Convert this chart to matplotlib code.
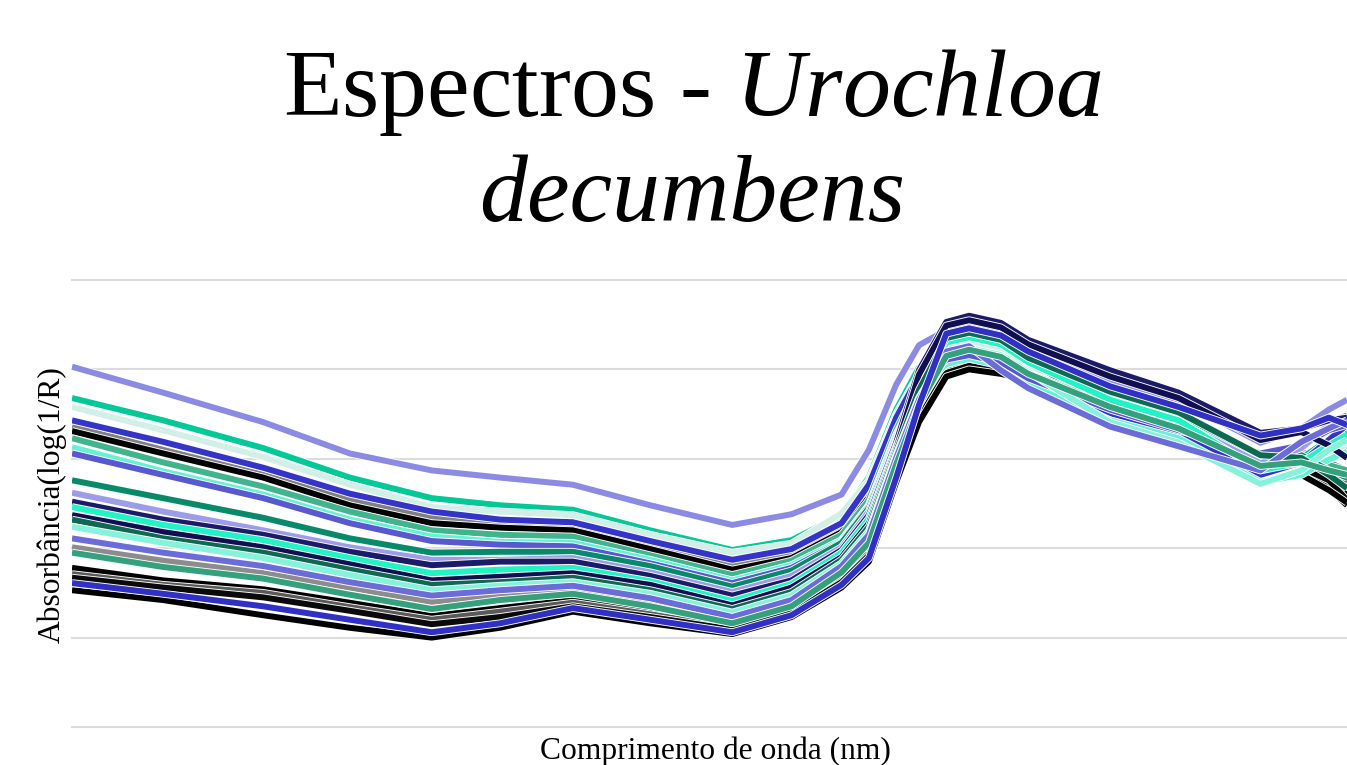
import matplotlib
matplotlib.use("Agg")
import matplotlib.pyplot as plt
import matplotlib.patheffects as pe

plt.rcParams['font.family'] = ['Liberation Serif', 'DejaVu Serif']
plt.rcParams['mathtext.fontset'] = 'custom'
plt.rcParams['mathtext.rm'] = 'Liberation Serif'
plt.rcParams['mathtext.it'] = 'Liberation Serif:italic'

# comprimento de onda (nm)
wl = [1100, 1200, 1310, 1405, 1495, 1570, 1650, 1735, 1825, 1890, 1945, 1975,
      2005, 2030, 2060, 2085, 2120, 2150, 2240, 2315, 2405, 2450, 2480, 2500]

# absorbancia log(1/R) de cada amostra
a01 = [0.403, 0.374, 0.341, 0.306, 0.287, 0.279, 0.271, 0.248, 0.226, 0.238, 0.260, 0.310,
       0.383, 0.427, 0.444, 0.451, 0.443, 0.423, 0.388, 0.366, 0.318, 0.334, 0.355, 0.366]
a02 = [0.368, 0.343, 0.312, 0.279, 0.256, 0.248, 0.243, 0.220, 0.198, 0.209, 0.237, 0.279,
       0.355, 0.402, 0.414, 0.418, 0.410, 0.394, 0.355, 0.334, 0.290, 0.301, 0.321, 0.330]
a03 = [0.358, 0.332, 0.302, 0.271, 0.246, 0.241, 0.237, 0.215, 0.195, 0.205, 0.239, 0.276,
       0.350, 0.395, 0.424, 0.430, 0.422, 0.402, 0.343, 0.321, 0.279, 0.287, 0.304, 0.315]
a04 = [0.343, 0.319, 0.290, 0.261, 0.241, 0.232, 0.229, 0.208, 0.187, 0.199, 0.228, 0.271,
       0.346, 0.393, 0.408, 0.414, 0.406, 0.388, 0.351, 0.329, 0.282, 0.296, 0.321, 0.338]
a05 = [0.336, 0.310, 0.282, 0.254, 0.234, 0.227, 0.224, 0.204, 0.181, 0.195, 0.224, 0.263,
       0.338, 0.388, 0.426, 0.433, 0.425, 0.405, 0.369, 0.346, 0.304, 0.308, 0.296, 0.287]
a06 = [0.331, 0.306, 0.279, 0.248, 0.228, 0.223, 0.220, 0.199, 0.176, 0.189, 0.218, 0.257,
       0.321, 0.371, 0.394, 0.403, 0.397, 0.389, 0.359, 0.336, 0.299, 0.287, 0.267, 0.248]
a07 = [0.323, 0.296, 0.269, 0.241, 0.220, 0.215, 0.213, 0.192, 0.170, 0.186, 0.215, 0.254,
       0.332, 0.383, 0.415, 0.421, 0.413, 0.396, 0.360, 0.338, 0.296, 0.299, 0.293, 0.287]
a08 = [0.313, 0.286, 0.260, 0.232, 0.213, 0.207, 0.206, 0.187, 0.164, 0.181, 0.209, 0.248,
       0.327, 0.377, 0.406, 0.412, 0.404, 0.385, 0.343, 0.323, 0.274, 0.282, 0.299, 0.308]
a09 = [0.306, 0.282, 0.256, 0.228, 0.208, 0.204, 0.202, 0.183, 0.161, 0.178, 0.207, 0.247,
       0.324, 0.379, 0.411, 0.416, 0.408, 0.390, 0.355, 0.332, 0.306, 0.315, 0.332, 0.338]
a10 = [0.276, 0.256, 0.234, 0.211, 0.195, 0.196, 0.196, 0.180, 0.157, 0.175, 0.206, 0.245,
       0.321, 0.383, 0.433, 0.439, 0.431, 0.411, 0.374, 0.351, 0.299, 0.304, 0.287, 0.279]
a11 = [0.262, 0.241, 0.220, 0.201, 0.187, 0.187, 0.189, 0.173, 0.151, 0.169, 0.201, 0.241,
       0.319, 0.388, 0.437, 0.443, 0.435, 0.416, 0.362, 0.341, 0.295, 0.312, 0.338, 0.349]
a12 = [0.252, 0.232, 0.215, 0.196, 0.181, 0.185, 0.185, 0.169, 0.147, 0.164, 0.198, 0.237,
       0.318, 0.399, 0.453, 0.460, 0.452, 0.433, 0.399, 0.374, 0.329, 0.334, 0.343, 0.346]
a13 = [0.246, 0.226, 0.209, 0.189, 0.172, 0.176, 0.178, 0.163, 0.141, 0.160, 0.195, 0.233,
       0.314, 0.375, 0.430, 0.436, 0.428, 0.408, 0.366, 0.343, 0.287, 0.296, 0.315, 0.327]
a14 = [0.237, 0.218, 0.201, 0.182, 0.164, 0.168, 0.172, 0.159, 0.136, 0.156, 0.190, 0.228,
       0.311, 0.394, 0.449, 0.455, 0.447, 0.428, 0.392, 0.368, 0.321, 0.330, 0.315, 0.301]
a15 = [0.232, 0.211, 0.195, 0.176, 0.159, 0.162, 0.167, 0.153, 0.132, 0.151, 0.187, 0.224,
       0.308, 0.377, 0.435, 0.441, 0.433, 0.413, 0.375, 0.352, 0.304, 0.301, 0.282, 0.267]
a16 = [0.224, 0.206, 0.189, 0.170, 0.153, 0.158, 0.162, 0.149, 0.128, 0.147, 0.183, 0.219,
       0.304, 0.368, 0.418, 0.424, 0.416, 0.397, 0.341, 0.318, 0.272, 0.287, 0.310, 0.321]
a17 = [0.211, 0.195, 0.180, 0.162, 0.147, 0.153, 0.158, 0.144, 0.123, 0.142, 0.180, 0.215,
       0.301, 0.366, 0.420, 0.426, 0.399, 0.379, 0.336, 0.314, 0.287, 0.319, 0.334, 0.343]
a18 = [0.201, 0.186, 0.172, 0.156, 0.140, 0.148, 0.153, 0.140, 0.120, 0.139, 0.177, 0.210,
       0.298, 0.361, 0.403, 0.409, 0.403, 0.394, 0.364, 0.340, 0.304, 0.287, 0.279, 0.274]
a19 = [0.195, 0.179, 0.166, 0.148, 0.132, 0.142, 0.149, 0.135, 0.116, 0.135, 0.173, 0.206,
       0.294, 0.360, 0.415, 0.422, 0.414, 0.395, 0.358, 0.334, 0.292, 0.296, 0.287, 0.282]
a20 = [0.178, 0.164, 0.154, 0.139, 0.124, 0.133, 0.142, 0.130, 0.113, 0.132, 0.169, 0.200,
       0.287, 0.349, 0.397, 0.406, 0.399, 0.392, 0.361, 0.338, 0.301, 0.285, 0.271, 0.260]
a21 = [0.171, 0.159, 0.150, 0.134, 0.120, 0.129, 0.139, 0.126, 0.111, 0.130, 0.166, 0.197,
       0.284, 0.352, 0.425, 0.432, 0.424, 0.404, 0.368, 0.343, 0.301, 0.299, 0.285, 0.276]
a22 = [0.167, 0.156, 0.145, 0.130, 0.115, 0.123, 0.135, 0.123, 0.109, 0.128, 0.162, 0.192,
       0.281, 0.346, 0.396, 0.404, 0.398, 0.390, 0.360, 0.337, 0.300, 0.290, 0.276, 0.254]
a23 = [0.161, 0.149, 0.135, 0.120, 0.106, 0.116, 0.133, 0.120, 0.106, 0.125, 0.159, 0.189,
       0.279, 0.360, 0.440, 0.446, 0.438, 0.420, 0.381, 0.358, 0.326, 0.334, 0.346, 0.338]
a24 = [0.153, 0.142, 0.125, 0.111, 0.100, 0.111, 0.129, 0.116, 0.104, 0.123, 0.156, 0.185,
       0.274, 0.341, 0.392, 0.400, 0.395, 0.388, 0.358, 0.334, 0.298, 0.282, 0.265, 0.251]

amostras = [a01, a02, a03, a04, a05, a06, a07, a08, a09, a10, a11, a12,
            a13, a14, a15, a16, a17, a18, a19, a20, a21, a22, a23, a24]
cores = ['#8b8be3', '#00c896', '#d2efe7', '#3434c8', '#808080', '#000000',
         '#40b48c', '#66f0d4', '#5858d0', '#078a6a', '#9c9ce8', '#1b1b68',
         '#22f2c4', '#101050', '#0c6a52', '#86f2dc', '#6c6cd8', '#8c8c8c',
         '#34a07c', '#000000', '#5a5a5a', '#0a0a0a', '#3030c4', '#000000']
# pretos e cinzas ficam por baixo das cores
neutras = {'#808080', '#000000', '#8c8c8c', '#5a5a5a', '#0a0a0a'}

fig = plt.figure(figsize=(13.47, 7.65), dpi=100)
ax = fig.add_axes([72 / 1347, 38 / 765, 1 - 72 / 1347, 447 / 765])

contorno = [pe.Stroke(linewidth=5.6, foreground='white'), pe.Normal()]
for y, c in zip(amostras, cores):
    z = 2 if c in neutras else 3
    ax.plot(wl, y, color=c, lw=4.3, solid_joinstyle='round', zorder=z,
            solid_capstyle='butt', path_effects=contorno)

ax.set_xlim(1100, 2500)
ax.set_ylim(0, 0.5)
ax.set_yticks([0, 0.1, 0.2, 0.3, 0.4, 0.5])
ax.set_xticks([])
ax.tick_params(left=False, labelleft=False)
ax.grid(axis='y', color='#dcdcdc', lw=1.5)
ax.set_axisbelow(True)
for s in ax.spines.values():
    s.set_visible(False)
for gl in ax.get_ygridlines():
    gl.set_clip_on(False)

fig.text(692 / 1347, 1 - 116 / 765, 'Espectros - $\\mathit{Urochloa}$',
         ha='center', va='baseline', fontsize=69)
fig.text(692 / 1347, 1 - 221 / 765, 'decumbens', ha='center', va='baseline',
         fontsize=69, style='italic')
fig.text(52 / 1347, 1 - 505 / 765, 'Absorbância(log(1/R)', rotation=90,
         ha='center', va='center', fontsize=22.7)
fig.text(715 / 1347, 1 - 759 / 765, 'Comprimento de onda (nm)', ha='center',
         va='baseline', fontsize=22.7)

fig.savefig('out.png', dpi=100)
